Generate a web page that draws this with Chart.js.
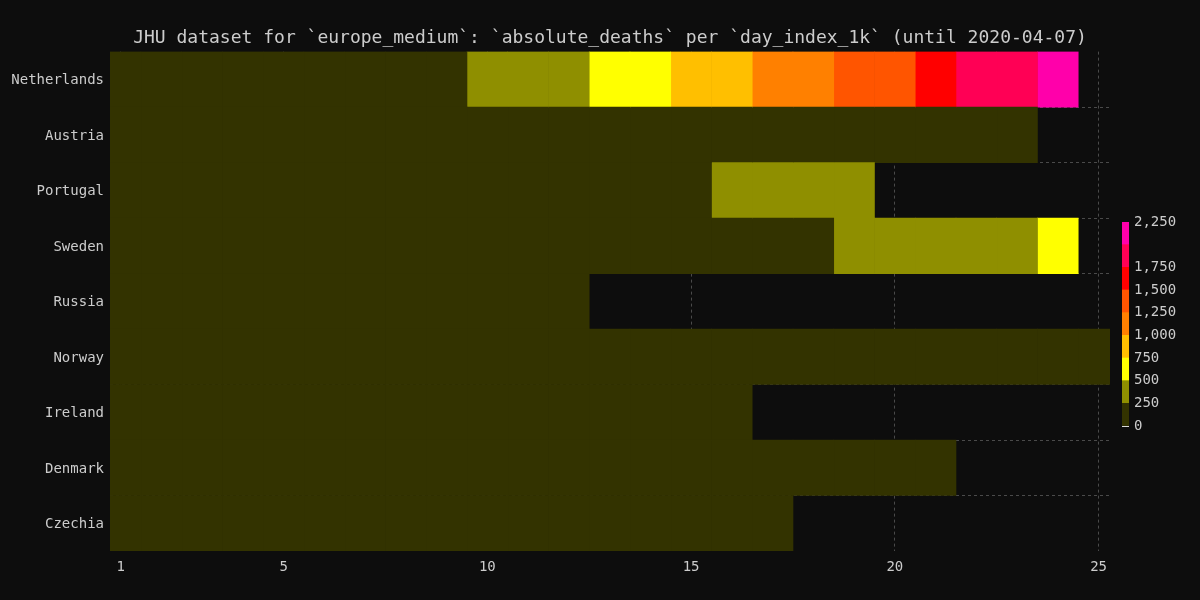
<!DOCTYPE html>
<html><head><meta charset="utf-8">
<script src="https://cdn.jsdelivr.net/npm/chart.js@4.4.0/dist/chart.umd.min.js"></script>
<style>
html,body{margin:0;padding:0;background:#0d0d0d;}
#wrap{position:relative;width:1200px;height:600px;background:#0d0d0d;}
#main{position:absolute;left:0;top:0;width:1200px;height:600px;}
#cbar{position:absolute;left:1100px;top:200px;width:100px;height:250px;}
</style></head><body>
<div id="wrap"><canvas id="main" width="1200" height="600"></canvas><canvas id="cbar" width="100" height="250"></canvas></div>
<script>
const countries = ["Netherlands","Austria","Portugal","Sweden","Russia","Norway","Ireland","Denmark","Czechia"];
const netherlands = [20,24,43,58,76,106,136,179,213,276,356,434,546,639,771,864,1039,1173,1339,1487,1651,1766,1867,2101];
const austria = [1,3,3,6,6,8,16,21,28,30,49,58,68,86,108,128,146,158,168,186,204,220,243];
const portugal = [6,12,14,23,33,43,60,76,100,119,140,160,187,209,246,266,295,311,345];
const sweden = [3,6,7,10,11,16,20,21,25,36,62,77,105,105,110,146,180,239,308,358,373,401,477,591];
const russia = [4,8,9,9,17,24,30,34,43,45,47,58];
const norway = [1,1,3,3,3,6,7,7,7,7,10,12,14,19,23,25,32,39,44,50,59,62,71,76,89];
const ireland = [6,7,9,19,22,36,46,54,71,85,98,120,137,158,174,210];
const denmark = [4,6,9,13,13,24,32,34,41,52,65,72,77,90,104,123,139,161,179,187,203];
const czechia = [0,1,3,6,9,9,11,16,23,31,39,44,53,59,67,78,80];
const series = [netherlands,austria,portugal,sweden,russia,norway,ireland,denmark,czechia];
const dayIndices = Array.from({length:25},(_,i)=>i+1);
const xTicks = [1,5,10,15,20,25];
const binEdges = [0,250,500,750,1000,1250,1500,1750,2000,2250];
const binColors = ['#333300','#8f8f00','#ffff00','#ffbf00','#ff8000','#ff5500','#ff0000','#ff0055','#ff00aa'];
const cbarTicks = [0,250,500,750,1000,1250,1500,1750,2250];

const FONT = "'DejaVu Sans Mono', 'Liberation Mono', monospace";
const TXT = '#cccccc';
const GRID = '#4a4a4a';

function colorFor(v){
  let i = Math.floor(v/250);
  if (i < 0) i = 0; if (i > binColors.length-1) i = binColors.length-1;
  return binColors[i];
}

const datasets = dayIndices.map(d => {
  const vals = series.map(s => s[d-1]);
  return {
    label: 'day ' + d,
    data: vals.map(v => v === undefined ? null : [d-0.5, d+0.5]),
    values: vals,
    backgroundColor: ctx => {
      const v = ctx.dataset.values[ctx.dataIndex];
      return v == null ? 'rgba(0,0,0,0)' : colorFor(v);
    },
    borderWidth: 0,
    grouped: false,
    barPercentage: 1,
    categoryPercentage: 1
  };
});

new Chart(document.getElementById('main'), {
  type: 'bar',
  data: { labels: countries, datasets },
  options: {
    indexAxis: 'y',
    responsive: false,
    animation: false,
    layout: { padding: { left: 0, right: 90, top: 0, bottom: 0 } },
    plugins: {
      legend: { display: false },
      tooltip: { enabled: false },
      title: {
        display: true,
        fullSize: false,
        text: 'JHU dataset for `europe_medium`: `absolute_deaths` per `day_index_1k` (until 2020-04-07)',
        color: TXT,
        font: { family: FONT, size: 18, weight: 'normal' },
        padding: { top: 28, bottom: 2 }
      }
    },
    scales: {
      x: {
        type: 'linear',
        min: 0.74, max: 25.28,
        afterBuildTicks: s => { s.ticks = xTicks.map(v => ({ value: v })); },
        afterFit: s => { s.height = 49; },
        grid: { color: GRID, drawTicks: false },
        border: { display: false, dash: [3,3] },
        ticks: { color: TXT, font: { family: FONT, size: 14 }, padding: 8, maxRotation: 0 }
      },
      y: {
        type: 'category',
        afterFit: s => { s.width = 110; },
        grid: {
          color: ctx => (ctx.type !== 'tick' || ctx.index === 0) ? 'rgba(0,0,0,0)' : GRID,
          drawTicks: false, offset: true
        },
        border: { display: false, dash: [3,3] },
        ticks: { color: TXT, font: { family: FONT, size: 14 }, padding: 6, labelOffset: 1.5 }
      }
    }
  }
});

// colour bar
const cbarSets = binColors.map((c, i) => ({
  data: [[binEdges[i], binEdges[i+1]]],
  backgroundColor: c,
  borderWidth: 0,
  grouped: false,
  barPercentage: 1,
  categoryPercentage: 1
}));

new Chart(document.getElementById('cbar'), {
  type: 'bar',
  data: { labels: [''], datasets: cbarSets },
  options: {
    responsive: false,
    animation: false,
    layout: { padding: { left: 22, right: 0, top: 22, bottom: 24 } },
    plugins: { legend: { display: false }, tooltip: { enabled: false }, title: { display: false } },
    scales: {
      x: { display: false },
      y: {
        position: 'right',
        min: 0, max: 2250,
        z: 1,
        afterBuildTicks: s => { s.ticks = cbarTicks.map(v => ({ value: v })); },
        afterFit: s => { s.width = 71; },
        grid: { color: 'rgba(255,255,255,0.85)', drawTicks: false, lineWidth: 1 },
        border: { display: false },
        ticks: {
          color: TXT, font: { family: FONT, size: 14 }, padding: 5,
          callback: v => Number(v).toLocaleString('en-US')
        }
      }
    }
  }
});
</script>
</body></html>
